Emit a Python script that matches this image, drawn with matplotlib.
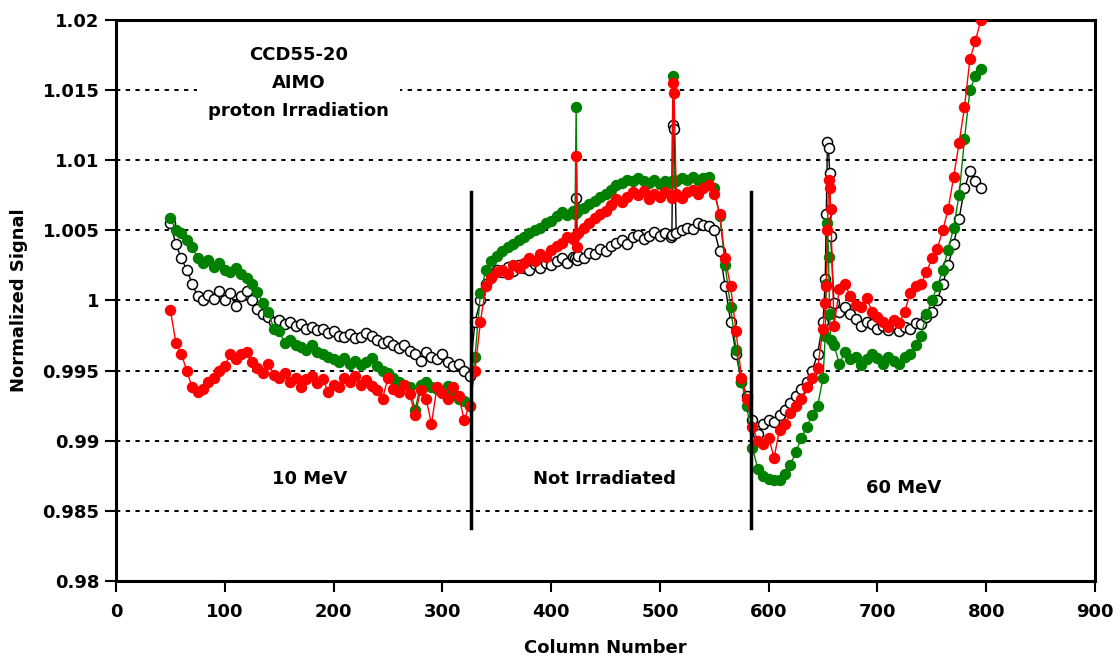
import numpy as np
import matplotlib
matplotlib.use("Agg")
import matplotlib.pyplot as plt

plt.rcParams['font.family'] = ['DejaVu Sans']

# column numbers (base step 5, extra columns around the spikes)
cols = (list(range(50, 421, 5)) + [422, 423, 424] +
        list(range(425, 511, 5)) + [511, 512, 513] +
        list(range(515, 651, 5)) + [652, 653, 654, 655, 656, 657] +
        list(range(660, 796, 5)))

black_y = [
    # 50 .. 420
    1.0055, 1.0040, 1.0030, 1.0022, 1.0012, 1.0003, 1.0000, 1.0004, 1.0001, 1.0007,
    1.0000, 1.0005, 0.9996, 1.0003, 1.0007, 1.0000, 0.9994, 0.9990, 0.9988, 0.9985,
    0.9986, 0.9983, 0.9985, 0.9982, 0.9983, 0.9980, 0.9981, 0.9979, 0.9980, 0.9977,
    0.9978, 0.9975, 0.9974, 0.9976, 0.9973, 0.9974, 0.9977, 0.9975, 0.9972, 0.9970,
    0.9971, 0.9968, 0.9966, 0.9968, 0.9964, 0.9962, 0.9957, 0.9963, 0.9960, 0.9958,
    0.9962, 0.9956, 0.9953, 0.9955, 0.9950, 0.9946, 0.9985, 1.0000, 1.0012, 1.0018,
    1.0022, 1.0020, 1.0024, 1.0021, 1.0025, 1.0023, 1.0022, 1.0026, 1.0023, 1.0027,
    1.0025, 1.0028, 1.0030, 1.0027, 1.0031,
    # 422 423 424
    1.0030, 1.0073, 1.0029,
    # 425 .. 510
    1.0032, 1.0030, 1.0034, 1.0033, 1.0037, 1.0035, 1.0039, 1.0041, 1.0043, 1.0040,
    1.0045, 1.0047, 1.0044, 1.0046, 1.0049, 1.0046, 1.0048, 1.0045,
    # 511 512 513
    1.0047, 1.0125, 1.0122,
    # 515 .. 650
    1.0048, 1.0050, 1.0052, 1.0051, 1.0055, 1.0054, 1.0053, 1.0050, 1.0035, 1.0010,
    0.9985, 0.9962, 0.9942, 0.9932, 0.9915, 0.9905, 0.9912, 0.9915, 0.9913, 0.9918,
    0.9922, 0.9927, 0.9932, 0.9937, 0.9942, 0.9950, 0.9962, 0.9985,
    # 652 .. 657
    1.0015, 1.0062, 1.0113, 1.0109, 1.0091, 1.0046,
    # 660 .. 795
    0.9998, 0.9992, 0.9995, 0.9990, 0.9987, 0.9982, 0.9985, 0.9983, 0.9980, 0.9982,
    0.9979, 0.9983, 0.9978, 0.9981, 0.9980, 0.9984, 0.9983, 0.9988, 0.9992, 1.0000,
    1.0012, 1.0025, 1.0040, 1.0058, 1.0080, 1.0092, 1.0085, 1.0080,
]

green_y = [
    1.0059, 1.0050, 1.0048, 1.0043, 1.0038, 1.0030, 1.0027, 1.0029, 1.0024, 1.0027,
    1.0022, 1.0020, 1.0023, 1.0019, 1.0016, 1.0012, 1.0006, 0.9998, 0.9992, 0.9980,
    0.9978, 0.9970, 0.9972, 0.9968, 0.9967, 0.9965, 0.9968, 0.9963, 0.9962, 0.9960,
    0.9958, 0.9956, 0.9959, 0.9955, 0.9957, 0.9954, 0.9956, 0.9959, 0.9953, 0.9950,
    0.9948, 0.9945, 0.9942, 0.9940, 0.9938, 0.9922, 0.9940, 0.9942, 0.9938, 0.9937,
    0.9935, 0.9939, 0.9934, 0.9930, 0.9928, 0.9925, 0.9960, 1.0005, 1.0022, 1.0028,
    1.0032, 1.0035, 1.0038, 1.0040, 1.0043, 1.0045, 1.0048, 1.0050, 1.0052, 1.0055,
    1.0057, 1.0060, 1.0063, 1.0061, 1.0064,
    1.0062, 1.0138, 1.0063,
    1.0065, 1.0066, 1.0069, 1.0071, 1.0074, 1.0076, 1.0079, 1.0082, 1.0084, 1.0086,
    1.0085, 1.0087, 1.0085, 1.0084, 1.0086, 1.0083, 1.0085, 1.0084,
    1.0085, 1.0160, 1.0086,
    1.0085, 1.0087, 1.0086, 1.0088, 1.0086, 1.0087, 1.0088, 1.0080, 1.0060, 1.0025,
    0.9995, 0.9965, 0.9942, 0.9925, 0.9895, 0.9880, 0.9875, 0.9873, 0.9872, 0.9872,
    0.9876, 0.9883, 0.9892, 0.9902, 0.9910, 0.9918, 0.9925, 0.9945,
    0.9975, 1.0012, 1.0055, 1.0031, 0.9990, 0.9972,
    0.9968, 0.9955, 0.9963, 0.9958, 0.9960, 0.9954, 0.9958, 0.9962, 0.9959, 0.9955,
    0.9960, 0.9957, 0.9955, 0.9960, 0.9962, 0.9968, 0.9975, 0.9990, 1.0000, 1.0010,
    1.0022, 1.0036, 1.0052, 1.0075, 1.0115, 1.0150, 1.0160, 1.0165,
]

red_y = [
    0.9993, 0.9970, 0.9962, 0.9950, 0.9938, 0.9935, 0.9937, 0.9942, 0.9945, 0.9950,
    0.9953, 0.9962, 0.9958, 0.9962, 0.9963, 0.9956, 0.9952, 0.9948, 0.9955, 0.9947,
    0.9945, 0.9948, 0.9942, 0.9945, 0.9938, 0.9944, 0.9946, 0.9941, 0.9944, 0.9935,
    0.9940, 0.9938, 0.9945, 0.9942, 0.9946, 0.9940, 0.9943, 0.9939, 0.9936, 0.9930,
    0.9945, 0.9937, 0.9935, 0.9940, 0.9933, 0.9918, 0.9936, 0.9930, 0.9912, 0.9938,
    0.9934, 0.9930, 0.9938, 0.9932, 0.9915, 0.9925, 0.9950, 0.9985, 1.0010, 1.0016,
    1.0020, 1.0022, 1.0019, 1.0025, 1.0023, 1.0027, 1.0030, 1.0028, 1.0033, 1.0031,
    1.0036, 1.0039, 1.0041, 1.0045, 1.0044,
    1.0046, 1.0103, 1.0038,
    1.0048, 1.0052, 1.0055, 1.0059, 1.0062, 1.0064, 1.0068, 1.0072, 1.0070, 1.0074,
    1.0077, 1.0075, 1.0078, 1.0072, 1.0076, 1.0074, 1.0077, 1.0075,
    1.0073, 1.0155, 1.0148,
    1.0076, 1.0073, 1.0077, 1.0079, 1.0076, 1.0080, 1.0082, 1.0076, 1.0062, 1.0030,
    1.0010, 0.9978, 0.9945, 0.9930, 0.9910, 0.9900, 0.9898, 0.9902, 0.9888, 0.9908,
    0.9912, 0.9920, 0.9925, 0.9930, 0.9938, 0.9945, 0.9952, 0.9980,
    0.9998, 1.0010, 1.0050, 1.0086, 1.0080, 1.0065,
    0.9982, 1.0008, 1.0012, 1.0003, 0.9997, 0.9995, 1.0002, 0.9992, 0.9988, 0.9985,
    0.9981, 0.9986, 0.9984, 0.9992, 1.0005, 1.0010, 1.0012, 1.0020, 1.0030, 1.0037,
    1.0050, 1.0065, 1.0088, 1.0112, 1.0138, 1.0172, 1.0185, 1.0200,
]

boundary_cols = [326, 584]
boundary_span = (0.9838, 1.0077)

region_labels = ["10 MeV", "Not Irradiated", "60 MeV"]
region_x = [178, 449, 724]
region_y = [0.9873, 0.9873, 0.9866]

y_ticks = [0.98, 0.985, 0.99, 0.995, 1.0, 1.005, 1.01, 1.015, 1.02]
y_tick_labels = ["0.98", "0.985", "0.99", "0.995", "1", "1.005", "1.01", "1.015", "1.02"]
x_ticks = list(range(0, 901, 100))

fig = plt.figure(figsize=(11.2, 6.59), dpi=100)
ax = fig.add_axes([0.1036, 0.1184, 0.8741, 0.8513])

for yv in y_ticks[1:-1]:
    ax.axhline(yv, color='black', lw=1.4, ls=(0, (2.2, 2.8)), zorder=1)

ms = 7.2
ax.plot(cols, black_y, color='black', lw=1.0, marker='o', ms=ms,
        mfc='white', mec='black', mew=1.1, zorder=3)
ax.plot(cols, green_y, color='#008000', lw=1.0, marker='o', ms=ms,
        mfc='#008000', mec='#008000', zorder=4)
ax.plot(cols, red_y, color='#ff0000', lw=1.0, marker='o', ms=ms,
        mfc='#ff0000', mec='#ff0000', zorder=5)

for c in boundary_cols:
    ax.plot([c, c], boundary_span, color='black', lw=2.5, zorder=6)

for lab, xx, yy in zip(region_labels, region_x, region_y):
    ax.text(xx, yy, lab, ha='center', va='center', fontsize=13,
            fontweight='bold', zorder=7)

ax.text(168, 1.0155, "CCD55-20\nAIMO\nproton Irradiation", ha='center',
        va='center', fontsize=13, fontweight='bold', linespacing=1.7,
        bbox=dict(facecolor='white', edgecolor='none', pad=8), zorder=7)

ax.set_xlim(0, 900)
ax.set_ylim(0.98, 1.02)
ax.set_xticks(x_ticks)
ax.set_yticks(y_ticks)
ax.set_yticklabels(y_tick_labels)
ax.tick_params(direction='out', length=8, width=1.5, labelsize=13)
ax.tick_params(axis='x', pad=8)
ax.tick_params(axis='y', pad=4)
for lab in ax.get_xticklabels() + ax.get_yticklabels():
    lab.set_fontweight('bold')
for sp in ax.spines.values():
    sp.set_linewidth(2.2)

ax.set_xlabel("Column Number", fontsize=13, fontweight='bold', labelpad=13)
ax.set_ylabel("Normalized Signal", fontsize=13, fontweight='bold', labelpad=10)

fig.savefig("out.png", dpi=100)
